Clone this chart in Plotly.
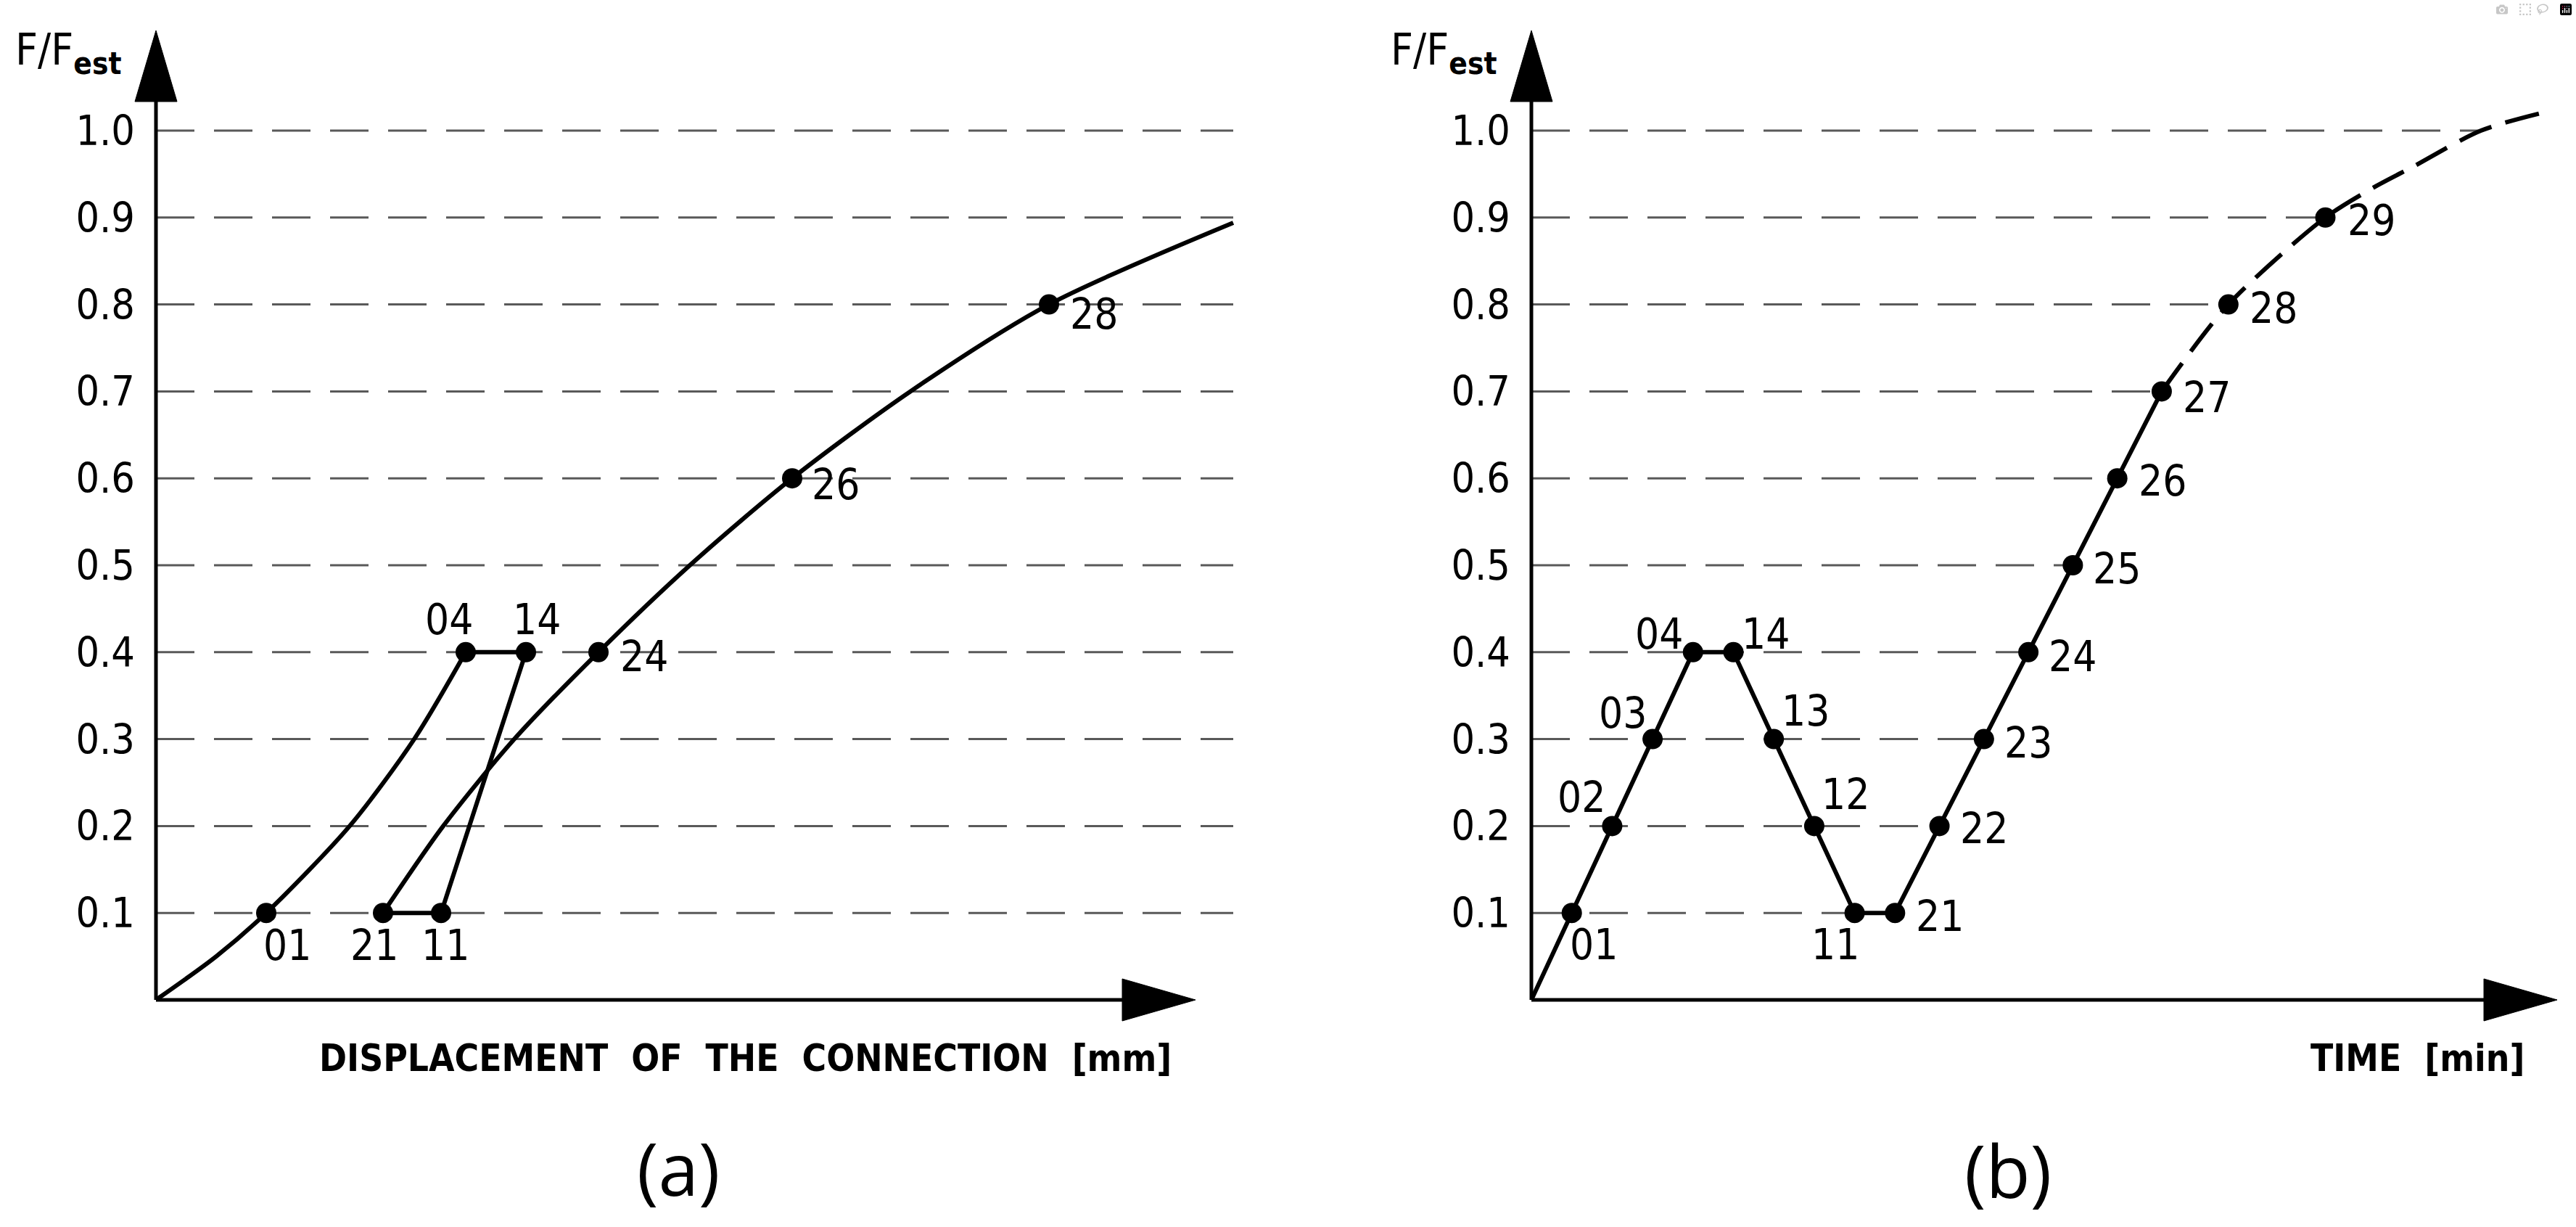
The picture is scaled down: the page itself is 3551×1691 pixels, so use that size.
import plotly.graph_objects as go

# ---------------- DATA ----------------
# Panel (a): F/Fest versus displacement of the connection (arbitrary mm units)
A_LOAD_X = [0.0, 0.83, 1.52, 2.67, 3.56, 4.27]          # origin -> 01 -> 04
A_LOAD_Y = [0.0, 0.05, 0.10, 0.20, 0.30, 0.40]
A_LOAD_LBL = ["", "", "01", "", "", "04"]

A_UNLOAD_X = [4.27, 5.10, 3.93, 3.13]                    # 04 -> 14 -> 11 -> 21
A_UNLOAD_Y = [0.40, 0.40, 0.10, 0.10]
A_UNLOAD_LBL = ["", "14", "11", "21"]

A_RELOAD_X = [3.13, 3.96, 4.94, 6.10, 7.36, 8.77, 10.40, 12.31, 14.85]   # 21 -> 24 -> 26 -> 28 -> ...
A_RELOAD_Y = [0.10, 0.20, 0.30, 0.40, 0.50, 0.60, 0.70, 0.80, 0.894]
A_RELOAD_LBL = ["", "", "", "24", "", "26", "", "28", ""]

# Panel (b): F/Fest versus time (arbitrary min units)
B_T = [0, 1, 2, 3, 4, 5, 6, 7, 8, 9, 10.1, 11.2, 12.3, 13.4, 14.5, 15.6]
B_F = [0, 0.1, 0.2, 0.3, 0.4, 0.4, 0.3, 0.2, 0.1, 0.1, 0.2, 0.3, 0.4, 0.5, 0.6, 0.7]
B_LBL = ["", "01", "02", "03", "04", "14", "13", "12", "11", "21", "22", "23", "24", "25", "26", "27"]

B_EXT_T = [15.6, 17.25, 19.65, 20.9, 21.8, 23.5, 25.15]   # dashed extrapolation 27 -> 28 -> 29 -> ...
B_EXT_F = [0.7, 0.8, 0.9, 0.936, 0.958, 1.0, 1.022]
B_EXT_LBL = ["", "28", "29", "", "", "", ""]

Y_TICKS = [0.1, 0.2, 0.3, 0.4, 0.5, 0.6, 0.7, 0.8, 0.9, 1.0]
Y_TICK_TEXT = ["0.1", "0.2", "0.3", "0.4", "0.5", "0.6", "0.7", "0.8", "0.9", "1.0"]

# ---------------- LAYOUT / STYLE ----------------
W, H = 3551, 1691
Y0_PX, Y_UNIT = 1378, 1198.0       # pixel row of F=0, pixels per 1.0
TOP_PX = 140
A_X0_PX, A_XU, A_RIGHT_PX = 215, 100.0, 1780
B_X0_PX, B_XU, B_RIGHT_PX = 2111, 55.7, 3545
ARROW_TIP_Y, ARROW_HALF = 42, 29
A_XARROW = (1547, 1648)
B_XARROW = (3424, 3525)

NARROW = "Liberation Sans Narrow, DejaVu Sans Condensed, Arial Narrow, sans-serif"
LW = 6
AXW = 5
GRID = dict(color="#595959", width=3, dash="53px,27px")
MSIZE = 28

A_SHIFT = {"01": (29, -45), "21": (-12, -45), "11": (6, -45), "04": (-23, 45),
           "14": (15, 45), "24": (63, -6), "26": (60, -9), "28": (62, -13)}
B_SHIFT = {"01": (30, -44), "02": (-42, 39), "03": (-41, 36), "04": (-47, 25),
           "14": (44, 25), "13": (44, 39), "12": (43, 43), "11": (-27, -44),
           "21": (62, -5), "22": (61, -4), "23": (61, -5), "24": (61, -6),
           "25": (61, -5), "26": (62, -4), "27": (62, -9), "28": (62, -5), "29": (63, -4)}


def px(xp):
    return xp / W


def py(yp):
    return 1 - yp / H


fig = go.Figure()

line_solid = dict(color="black", width=LW)

# ---- panel (a) curves
fig.add_trace(go.Scatter(x=A_LOAD_X, y=A_LOAD_Y, mode="lines", xaxis="x", yaxis="y",
                         line=dict(color="black", width=LW, shape="spline", smoothing=0.8)))
fig.add_trace(go.Scatter(x=A_UNLOAD_X, y=A_UNLOAD_Y, mode="lines", xaxis="x", yaxis="y",
                         line=line_solid))
fig.add_trace(go.Scatter(x=A_RELOAD_X, y=A_RELOAD_Y, mode="lines", xaxis="x", yaxis="y",
                         line=dict(color="black", width=LW, shape="spline", smoothing=0.8)))

annotations = []


def add_points(xs, ys, lbls, xa, ya, shifts):
    mx = [x for x, l in zip(xs, lbls) if l]
    my = [y for y, l in zip(ys, lbls) if l]
    fig.add_trace(go.Scatter(x=mx, y=my, mode="markers", xaxis=xa, yaxis=ya, cliponaxis=False,
                             marker=dict(color="black", size=MSIZE)))
    for x, y, l in zip(xs, ys, lbls):
        if l:
            dx, dy = shifts[l]
            annotations.append(dict(x=x, y=y, xref=xa, yref=ya, text=l, showarrow=False,
                                    xshift=dx, yshift=dy, xanchor="center", yanchor="middle",
                                    font=dict(family=NARROW, size=58, color="black")))


add_points(A_LOAD_X, A_LOAD_Y, A_LOAD_LBL, "x", "y", A_SHIFT)
add_points(A_UNLOAD_X, A_UNLOAD_Y, A_UNLOAD_LBL, "x", "y", A_SHIFT)
add_points(A_RELOAD_X, A_RELOAD_Y, A_RELOAD_LBL, "x", "y", A_SHIFT)

# ---- panel (b) curves
fig.add_trace(go.Scatter(x=B_T, y=B_F, mode="lines", xaxis="x2", yaxis="y2", line=line_solid))
fig.add_trace(go.Scatter(x=B_EXT_T, y=B_EXT_F, mode="lines", xaxis="x2", yaxis="y2",
                         line=dict(color="black", width=LW, shape="spline", smoothing=0.8,
                                   dash="48px,20px")))
add_points(B_T, B_F, B_LBL, "x2", "y2", B_SHIFT)
add_points(B_EXT_T, B_EXT_F, B_EXT_LBL, "x2", "y2", B_SHIFT)

# ---- dashed horizontal reference lines
shapes = []
a_end = max(A_RELOAD_X)
for lev in Y_TICKS:
    shapes.append(dict(type="line", xref="x", yref="y", x0=0, x1=a_end, y0=lev, y1=lev,
                       line=GRID, layer="below"))
all_t = B_T + B_EXT_T
all_f = B_F + B_EXT_F
for lev in Y_TICKS:
    ends = [t for t, f in zip(all_t, all_f) if abs(f - lev) < 1e-9]
    shapes.append(dict(type="line", xref="x2", yref="y2", x0=0, x1=max(ends), y0=lev, y1=lev,
                       line=GRID, layer="below"))

# ---- axes with arrow heads (decoration, paper coordinates)
for x0p, (xb, xt) in ((A_X0_PX, A_XARROW), (B_X0_PX, B_XARROW)):
    shapes.append(dict(type="line", xref="paper", yref="paper", x0=px(x0p), x1=px(x0p),
                       y0=py(Y0_PX), y1=py(TOP_PX), line=dict(color="black", width=AXW)))
    shapes.append(dict(type="line", xref="paper", yref="paper", x0=px(x0p), x1=px(xb),
                       y0=py(Y0_PX), y1=py(Y0_PX), line=dict(color="black", width=AXW)))
    shapes.append(dict(type="path", xref="paper", yref="paper",
                       path=f"M {px(x0p - ARROW_HALF)},{py(TOP_PX)} L {px(x0p)},{py(ARROW_TIP_Y)} "
                            f"L {px(x0p + ARROW_HALF)},{py(TOP_PX)} Z",
                       fillcolor="black", line=dict(color="black", width=1)))
    shapes.append(dict(type="path", xref="paper", yref="paper",
                       path=f"M {px(xb)},{py(Y0_PX - ARROW_HALF)} L {px(xt)},{py(Y0_PX)} "
                            f"L {px(xb)},{py(Y0_PX + ARROW_HALF)} Z",
                       fillcolor="black", line=dict(color="black", width=1)))

# ---- texts
for x0p in (A_X0_PX, B_X0_PX):
    annotations.append(dict(xref="paper", yref="paper", x=px(x0p - 45), y=py(72),
                            xanchor="right", yanchor="middle", showarrow=False,
                            text="F/F<sub><b>est</b></sub>",
                            font=dict(family=NARROW, size=60, color="black")))

annotations.append(dict(xref="paper", yref="paper", x=px(1617), y=py(1458), xanchor="right",
                        yanchor="middle", showarrow=False,
                        text="<b>DISPLACEMENT\u00a0\u00a0OF\u00a0\u00a0THE\u00a0\u00a0CONNECTION\u00a0\u00a0[mm]</b>",
                        font=dict(family=NARROW, size=51, color="black")))
annotations.append(dict(xref="paper", yref="paper", x=px(3482), y=py(1458), xanchor="right",
                        yanchor="middle", showarrow=False,
                        text="<b>TIME\u00a0\u00a0[min]</b>",
                        font=dict(family=NARROW, size=51, color="black")))
annotations.append(dict(xref="paper", yref="paper", x=px(935), y=py(1609), xanchor="center",
                        yanchor="middle", showarrow=False, text="(a)",
                        font=dict(family="Open Sans, sans-serif", size=100, color="black")))
annotations.append(dict(xref="paper", yref="paper", x=px(2768), y=py(1612), xanchor="center",
                        yanchor="middle", showarrow=False, text="(b)",
                        font=dict(family="Open Sans, sans-serif", size=100, color="black")))

y_range = [0, (Y0_PX - TOP_PX) / Y_UNIT]
y_dom = [py(Y0_PX), py(TOP_PX)]
yax = dict(range=y_range, domain=y_dom, showgrid=False, zeroline=False, showline=False,
           tickvals=Y_TICKS, ticktext=Y_TICK_TEXT, ticks="", ticklabelstandoff=28,
           tickfont=dict(family=NARROW, size=57, color="black"), fixedrange=True)

fig.update_layout(
    width=W, height=H, margin=dict(l=0, r=0, t=0, b=0),
    paper_bgcolor="white", plot_bgcolor="white", showlegend=False,
    xaxis=dict(domain=[px(A_X0_PX), px(A_RIGHT_PX)], range=[0, (A_RIGHT_PX - A_X0_PX) / A_XU],
               visible=False, fixedrange=True),
    yaxis=dict(anchor="x", **yax),
    xaxis2=dict(domain=[px(B_X0_PX), px(B_RIGHT_PX)], range=[0, (B_RIGHT_PX - B_X0_PX) / B_XU],
                visible=False, fixedrange=True),
    yaxis2=dict(anchor="x2", **yax),
    shapes=shapes, annotations=annotations,
)

fig.write_html("out.html", post_script="document.body.style.margin='0';")
